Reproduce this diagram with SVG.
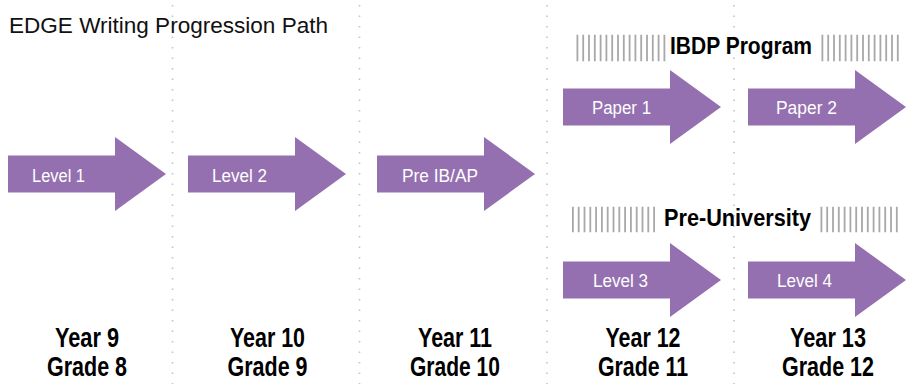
<svg xmlns="http://www.w3.org/2000/svg" xmlns:xlink="http://www.w3.org/1999/xlink" width="918" height="384" viewBox="0 0 918 384">
  <style>
    .sep { stroke: #c4c4c4; stroke-width: 1.6; stroke-dasharray: 1.6 8.9; fill: none; }
    .arrow { fill: #9470b0; }
    .lbl { font-family: "Liberation Sans", Arial, sans-serif; font-size: 17.5px; fill: #ffffff; }
    .title { font-family: "Liberation Sans", Arial, sans-serif; font-size: 22px; fill: #111111; }
    .hdr { font-family: "Liberation Sans Narrow", "Liberation Sans", Arial, sans-serif; font-weight: bold; font-size: 23px; fill: #000000; }
    .bars { stroke: #a8a8ab; stroke-dasharray: 1.8 4; fill: none; }
    .yr { font-family: "Liberation Sans Narrow", "Liberation Sans", Arial, sans-serif; font-weight: bold; font-size: 27px; fill: #000000; text-anchor: middle; }
  </style>
  <defs>
    <path id="arrowShape" class="arrow" d="M0,-18.5 H107 V-37 L158,0 L107,37 V18.5 H0 Z"/>
  </defs>
  <rect width="918" height="384" fill="#ffffff"/>

  <g id="separators">
    <line class="sep" x1="172.5" y1="5" x2="172.5" y2="384"/>
    <line class="sep" x1="359.5" y1="5" x2="359.5" y2="384"/>
    <line class="sep" x1="547" y1="5" x2="547" y2="384"/>
    <line class="sep" x1="734" y1="5" x2="734" y2="384"/>
  </g>

  <g id="title">
    <text class="title" x="9" y="33" textLength="319" lengthAdjust="spacingAndGlyphs">EDGE Writing Progression Path</text>
  </g>

  <g id="header-ibdp">
    <line class="bars" x1="576.5" y1="48" x2="665.3" y2="48" stroke-width="26.5"/>
    <text class="hdr" x="670" y="53.5" textLength="142" lengthAdjust="spacingAndGlyphs">IBDP Program</text>
    <line class="bars" x1="821.5" y1="48" x2="898.7" y2="48" stroke-width="26.5"/>
  </g>

  <g id="header-preuni">
    <line class="bars" x1="572" y1="219.5" x2="655" y2="219.5" stroke-width="25.6"/>
    <text class="hdr" x="664" y="226" textLength="147" lengthAdjust="spacingAndGlyphs">Pre-University</text>
    <line class="bars" x1="820.5" y1="219.5" x2="897.7" y2="219.5" stroke-width="25.6"/>
  </g>

  <g id="level1">
    <use xlink:href="#arrowShape" href="#arrowShape" x="8" y="174"/>
    <text class="lbl" x="32" y="181.5" textLength="53" lengthAdjust="spacingAndGlyphs">Level 1</text>
  </g>
  <g id="level2">
    <use xlink:href="#arrowShape" href="#arrowShape" x="188" y="174"/>
    <text class="lbl" x="212" y="181.5" textLength="55" lengthAdjust="spacingAndGlyphs">Level 2</text>
  </g>
  <g id="preibap">
    <use xlink:href="#arrowShape" href="#arrowShape" x="377" y="174"/>
    <text class="lbl" x="402" y="181.5" textLength="76" lengthAdjust="spacingAndGlyphs">Pre IB/AP</text>
  </g>
  <g id="paper1">
    <use xlink:href="#arrowShape" href="#arrowShape" x="563" y="107"/>
    <text class="lbl" x="592" y="114" textLength="59" lengthAdjust="spacingAndGlyphs">Paper 1</text>
  </g>
  <g id="paper2">
    <use xlink:href="#arrowShape" href="#arrowShape" x="748" y="107"/>
    <text class="lbl" x="776" y="114" textLength="61" lengthAdjust="spacingAndGlyphs">Paper 2</text>
  </g>
  <g id="level3">
    <use xlink:href="#arrowShape" href="#arrowShape" x="563" y="280"/>
    <text class="lbl" x="593" y="287" textLength="55" lengthAdjust="spacingAndGlyphs">Level 3</text>
  </g>
  <g id="level4">
    <use xlink:href="#arrowShape" href="#arrowShape" x="748" y="280"/>
    <text class="lbl" x="777" y="287" textLength="55" lengthAdjust="spacingAndGlyphs">Level 4</text>
  </g>

  <g id="year9">
    <text class="yr" x="87" y="347" textLength="64" lengthAdjust="spacingAndGlyphs">Year 9</text>
    <text class="yr" x="87" y="376" textLength="80" lengthAdjust="spacingAndGlyphs">Grade 8</text>
  </g>
  <g id="year10">
    <text class="yr" x="267.5" y="347" textLength="75" lengthAdjust="spacingAndGlyphs">Year 10</text>
    <text class="yr" x="267.5" y="376" textLength="80" lengthAdjust="spacingAndGlyphs">Grade 9</text>
  </g>
  <g id="year11">
    <text class="yr" x="455" y="347" textLength="74" lengthAdjust="spacingAndGlyphs">Year 11</text>
    <text class="yr" x="455" y="376" textLength="90" lengthAdjust="spacingAndGlyphs">Grade 10</text>
  </g>
  <g id="year12">
    <text class="yr" x="643" y="347" textLength="75" lengthAdjust="spacingAndGlyphs">Year 12</text>
    <text class="yr" x="643" y="376" textLength="90" lengthAdjust="spacingAndGlyphs">Grade 11</text>
  </g>
  <g id="year13">
    <text class="yr" x="828" y="347" textLength="76" lengthAdjust="spacingAndGlyphs">Year 13</text>
    <text class="yr" x="828" y="376" textLength="92" lengthAdjust="spacingAndGlyphs">Grade 12</text>
  </g>

  <g id="connectors"></g>
</svg>
